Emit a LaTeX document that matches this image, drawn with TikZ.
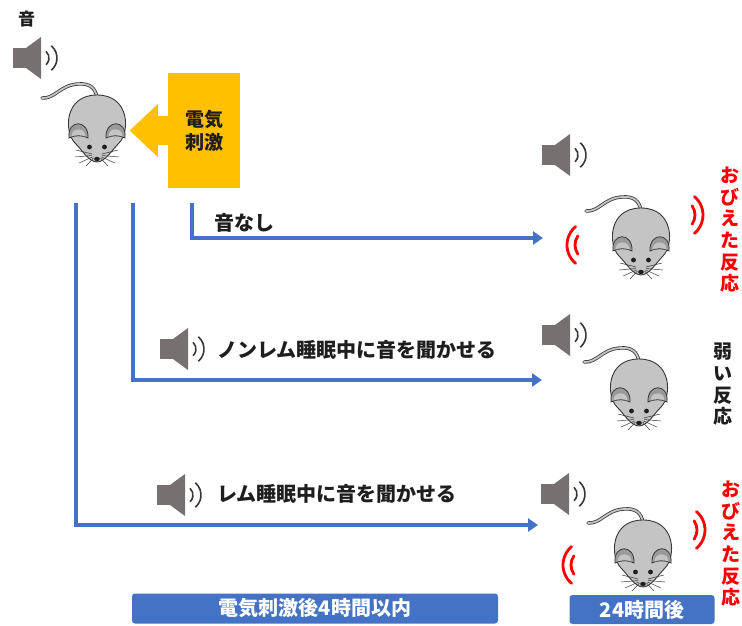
\documentclass[tikz,border=0pt]{standalone}
\usepackage{fontspec}
\newfontfamily\jp{Noto Sans CJK JP}
\usetikzlibrary{arrows.meta}

\definecolor{flowblue}{HTML}{4472C4}
\definecolor{shockgold}{HTML}{FFC000}
\definecolor{spkgrey}{HTML}{767171}
\definecolor{mousefill}{HTML}{C4C4C4}
\definecolor{eargrey}{HTML}{9A9A9A}
\definecolor{mouseline}{HTML}{383838}
\definecolor{fearred}{HTML}{FF0000}
\definecolor{inkdark}{HTML}{1E1E1E}

\tikzset{
  % mouse seen from above, origin at the middle of the body
  mousepic/.pic={
    \draw[draw=mouseline, line width=0.8pt, double=mousefill, double distance=1.8pt, line cap=round]
      (-55,-30) .. controls (-42,-29) and (-37,-43) .. (-19,-44)
      .. controls (-7,-45) and (-2,-40) .. (0,-31);
    \draw[fill=mousefill, draw=mouseline, line width=0.9pt]
      (0,34) .. controls (-8,34) and (-15,22) .. (-22,15)
      .. controls (-33,4) and (-33,-33) .. (0,-33)
      .. controls (33,-33) and (33,4) .. (22,15)
      .. controls (15,22) and (8,34) .. (0,34) -- cycle;
    \foreach \s in {-1,1}{
      \begin{scope}[xscale=\s]
        \draw[fill=eargrey, draw=mouseline, line width=0.8pt]
          (-28,10) .. controls (-30,-9) and (-8,-9) .. (-9,10)
          .. controls (-14,7) and (-23,7) .. (-28,10) -- cycle;
        \fill[mousefill] (-25.5,8.6) .. controls (-26,-1) and (-11,-1) .. (-11.5,8.6)
          .. controls (-15,6.6) and (-22,6.6) .. (-25.5,8.6) -- cycle;
        \draw[mouseline, line width=0.5pt]
          (-5,26) -- (-21,22)
          (-5,27.5) -- (-22,29)
          (-4.5,29) -- (-18,35)
          (-3.5,30) -- (-11,38);
        \fill[inkdark] (-7.5,19) circle[radius=2.4];
      \end{scope}
    }
    \fill[inkdark] (0,31) ellipse[x radius=2.8, y radius=2.2];
  },
  % loudspeaker with two sound waves
  speakerpic/.pic={
    \fill[spkgrey] (0,-10) rectangle (13,10);
    \fill[spkgrey] (13,-10) -- (28,-21) -- (28,21) -- (13,10) -- cycle;
    \draw[mouseline, line width=1.6pt]
      (27,0) ++(-48:9) arc[start angle=-48, end angle=48, radius=9];
    \draw[mouseline, line width=1.6pt]
      (28,0) ++(-50:16) arc[start angle=-50, end angle=50, radius=16];
  },
  % red trembling marks
  wavesleft/.pic={
    \draw[fearred, line width=2.8pt, line cap=round]
      (0,0) ++(130:24) arc[start angle=130, end angle=230, radius=24];
    \draw[fearred, line width=2.8pt, line cap=round]
      (0,0) ++(145:16) arc[start angle=145, end angle=215, radius=16];
  },
  wavesright/.pic={
    \draw[fearred, line width=2.8pt, line cap=round]
      (0,0) ++(-50:24) arc[start angle=-50, end angle=50, radius=24];
    \draw[fearred, line width=2.8pt, line cap=round]
      (0,0) ++(-35:16) arc[start angle=-35, end angle=35, radius=16];
  },
  label/.style={font=\jp\bfseries\fontsize{20}{24}\selectfont, inner sep=0pt, text=inkdark},
  vlabel/.style={font=\jp\bfseries\fontsize{19}{21.6}\selectfont, inner sep=0pt,
    align=center, anchor=north},
  flow/.style={draw=flowblue, line width=4pt,
    -{Triangle[length=10pt, width=13pt]}},
  spanbox/.style={fill=flowblue, rounded corners=3pt, text=white, inner sep=0pt,
    font=\jp\bfseries\fontsize{20}{22}\selectfont},
  shockbox/.style={fill=shockgold, inner sep=0pt, align=center, text=inkdark,
    minimum width=72pt, minimum height=115pt,
    font=\jp\bfseries\fontsize{19}{23}\selectfont},
}

\begin{document}
\begin{tikzpicture}[x=1pt, y=-1pt]
\fill[white] (0,0) rectangle (742,626);
\useasboundingbox (0,0) rectangle (742,626);

% conditioning: tone + electric shock
\node[label, font=\jp\bfseries\fontsize{17}{20}\selectfont] (tone) at (26.5,19.5) {音};
\pic (spk0) at (13,58) {speakerpic};
\pic (m0) at (97,128) {mousepic};
\node[shockbox] (shock) at (204,130.5) {電気\\刺激};
% left-pointing arrow from the shock box towards the mouse
\fill[shockgold] ([yshift=14.5pt]shock.west) -- ++(-10,0) -- ++(0,-12)
  -- ++(-28,26.5) -- ++(28,26.5) -- ++(0,-12) -- ([yshift=-14.5pt]shock.west) -- cycle;

% three conditions
\coordinate (a1) at (192,203);
\coordinate (b1) at (543,238);
\coordinate (a2) at (133,203);
\coordinate (b2) at (542,380);
\coordinate (a3) at (76,203);
\coordinate (b3) at (538,525);
\draw[flow] (a1) |- (b1);
\draw[flow] (a2) |- (b2);
\draw[flow] (a3) |- (b3);

\node[label, anchor=west] (none) at (214,223) {音なし};
\pic (spk5) at (160,349) {speakerpic};
\node[label, anchor=west] (nrem) at (217,350) {ノンレム睡眠中に音を聞かせる};
\pic (spk6) at (157,495) {speakerpic};
\node[label, anchor=west] (rem) at (217,494) {レム睡眠中に音を聞かせる};

% test 24 h later
\pic (spk1) at (542,155) {speakerpic};
\pic (m1) at (641,241) {mousepic};
\pic (w1l) at (591,245) {wavesleft};
\pic (w1r) at (679,215) {wavesright};
\node[vlabel, text=fearred] (fear1) at (730,167) {お\\び\\え\\た\\反\\応};

\pic (spk2) at (542,335) {speakerpic};
\pic (m2) at (639,392) {mousepic};
\node[vlabel, text=inkdark] (weak) at (723,343) {弱\\い\\反\\応};

\pic (spk3) at (541,494) {speakerpic};
\pic (m3) at (643,553) {mousepic};
\pic (w3l) at (587,565) {wavesleft};
\pic (w3r) at (681,530) {wavesright};
\node[vlabel, text=fearred] (fear3) at (731,481) {お\\び\\え\\た\\反\\応};

% time spans
\node[spanbox, minimum width=366pt, minimum height=30pt] (within) at (315,608.5) {電気刺激後4時間以内};
\node[spanbox, minimum width=145pt, minimum height=29pt] (later) at (642,609.5) {24時間後};
\end{tikzpicture}
\end{document}
